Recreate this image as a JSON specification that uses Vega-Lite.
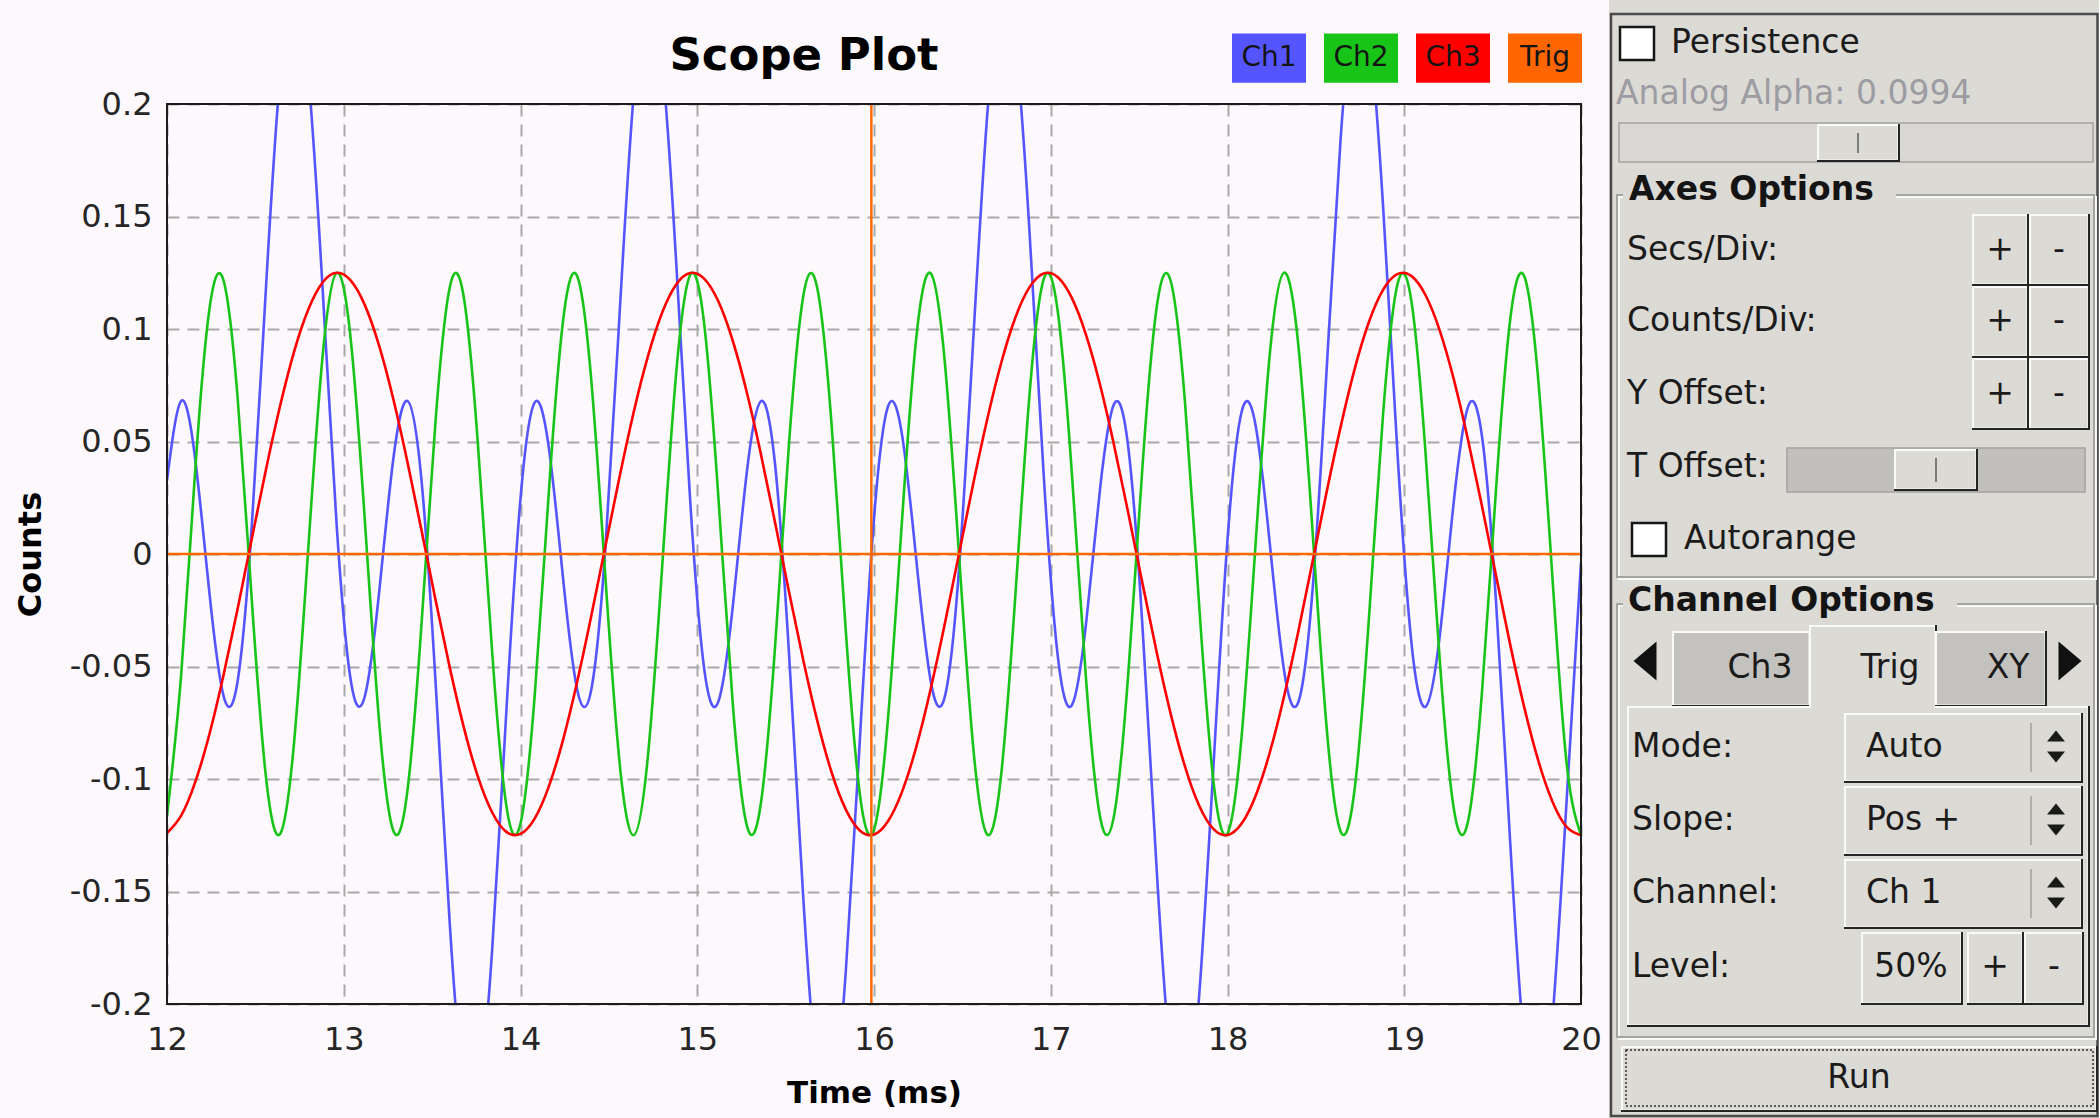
{
"$schema": "https://vega.github.io/schema/vega-lite/v6.json",
"background": "#fcf8fc",
"padding": {"left": 14, "top": 0, "right": 0, "bottom": 0},
"spacing": 7,
"config": {"font": "DejaVu Sans", "view": {"stroke": null}},
"datasets": {
"scope": [
{"t":12.00,"Ch1":0.0327,"Ch2":-0.1163,"Ch3":-0.1240},
{"t":12.08,"Ch1":0.0680,"Ch2":-0.0538,"Ch3":-0.1163},
{"t":12.16,"Ch1":0.0419,"Ch2":0.0376,"Ch3":-0.1013},
{"t":12.24,"Ch1":-0.0173,"Ch2":0.1088,"Ch3":-0.0801},
{"t":12.32,"Ch1":-0.0631,"Ch2":0.1215,"Ch3":-0.0538},
{"t":12.40,"Ch1":-0.0563,"Ch2":0.0690,"Ch3":-0.0242},
{"t":12.48,"Ch1":0.0128,"Ch2":-0.0207,"Ch3":0.0069},
{"t":12.56,"Ch1":0.1184,"Ch2":-0.0992,"Ch3":0.0376},
{"t":12.64,"Ch1":0.2126,"Ch2":-0.1244,"Ch3":0.0659},
{"t":12.72,"Ch1":0.2500,"Ch2":-0.0828,"Ch3":0.0902},
{"t":12.80,"Ch1":0.2125,"Ch2":0.0033,"Ch3":0.1088},
{"t":12.88,"Ch1":0.1184,"Ch2":0.0876,"Ch3":0.1207},
{"t":12.96,"Ch1":0.0127,"Ch2":0.1249,"Ch3":0.1250},
{"t":13.04,"Ch1":-0.0563,"Ch2":0.0950,"Ch3":0.1215},
{"t":13.12,"Ch1":-0.0630,"Ch2":0.0141,"Ch3":0.1105},
{"t":13.20,"Ch1":-0.0172,"Ch2":-0.0744,"Ch3":0.0926},
{"t":13.28,"Ch1":0.0420,"Ch2":-0.1229,"Ch3":0.0690},
{"t":13.36,"Ch1":0.0680,"Ch2":-0.1054,"Ch3":0.0410},
{"t":13.44,"Ch1":0.0327,"Ch2":-0.0312,"Ch3":0.0105},
{"t":13.52,"Ch1":-0.0576,"Ch2":0.0597,"Ch3":-0.0207},
{"t":13.60,"Ch1":-0.1646,"Ch2":0.1186,"Ch3":-0.0505},
{"t":13.68,"Ch1":-0.2380,"Ch2":0.1137,"Ch3":-0.0773},
{"t":13.76,"Ch1":-0.2424,"Ch2":0.0477,"Ch3":-0.0992},
{"t":13.84,"Ch1":-0.1755,"Ch2":-0.0439,"Ch3":-0.1149},
{"t":13.92,"Ch1":-0.0699,"Ch2":-0.1119,"Ch3":-0.1235},
{"t":14.00,"Ch1":0.0246,"Ch2":-0.1198,"Ch3":-0.1244},
{"t":14.08,"Ch1":0.0673,"Ch2":-0.0633,"Ch3":-0.1176},
{"t":14.16,"Ch1":0.0474,"Ch2":0.0272,"Ch3":-0.1034},
{"t":14.24,"Ch1":-0.0102,"Ch2":0.1031,"Ch3":-0.0828},
{"t":14.32,"Ch1":-0.0600,"Ch2":0.1236,"Ch3":-0.0570},
{"t":14.40,"Ch1":-0.0604,"Ch2":0.0777,"Ch3":-0.0277},
{"t":14.48,"Ch1":0.0023,"Ch2":-0.0099,"Ch3":0.0033},
{"t":14.56,"Ch1":0.1059,"Ch2":-0.0923,"Ch3":0.0341},
{"t":14.64,"Ch1":0.2039,"Ch2":-0.1250,"Ch3":0.0629},
{"t":14.72,"Ch1":0.2495,"Ch2":-0.0905,"Ch3":0.0876},
{"t":14.80,"Ch1":0.2203,"Ch2":-0.0075,"Ch3":0.1070},
{"t":14.88,"Ch1":0.1308,"Ch2":0.0797,"Ch3":0.1197},
{"t":14.96,"Ch1":0.0238,"Ch2":0.1240,"Ch3":0.1249},
{"t":15.04,"Ch1":-0.0514,"Ch2":0.1017,"Ch3":0.1223},
{"t":15.12,"Ch1":-0.0655,"Ch2":0.0247,"Ch3":0.1122},
{"t":15.20,"Ch1":-0.0241,"Ch2":-0.0655,"Ch3":0.0950},
{"t":15.28,"Ch1":0.0361,"Ch2":-0.1205,"Ch3":0.0720},
{"t":15.36,"Ch1":0.0679,"Ch2":-0.1108,"Ch3":0.0444},
{"t":15.44,"Ch1":0.0400,"Ch2":-0.0415,"Ch3":0.0141},
{"t":15.52,"Ch1":-0.0454,"Ch2":0.0500,"Ch3":-0.0171},
{"t":15.60,"Ch1":-0.1530,"Ch2":0.1147,"Ch3":-0.0472},
{"t":15.68,"Ch1":-0.2327,"Ch2":0.1178,"Ch3":-0.0744},
{"t":15.76,"Ch1":-0.2458,"Ch2":0.0575,"Ch3":-0.0970},
{"t":15.84,"Ch1":-0.1861,"Ch2":-0.0336,"Ch3":-0.1135},
{"t":15.92,"Ch1":-0.0825,"Ch2":-0.1067,"Ch3":-0.1229},
{"t":16.00,"Ch1":0.0158,"Ch2":-0.1224,"Ch3":-0.1247},
{"t":16.08,"Ch1":0.0657,"Ch2":-0.0724,"Ch3":-0.1187},
{"t":16.16,"Ch1":0.0523,"Ch2":0.0166,"Ch3":-0.1054},
{"t":16.24,"Ch1":-0.0031,"Ch2":0.0966,"Ch3":-0.0855},
{"t":16.32,"Ch1":-0.0561,"Ch2":0.1248,"Ch3":-0.0602},
{"t":16.40,"Ch1":-0.0636,"Ch2":0.0858,"Ch3":-0.0312},
{"t":16.48,"Ch1":-0.0078,"Ch2":0.0009,"Ch3":-0.0003},
{"t":16.56,"Ch1":0.0932,"Ch2":-0.0847,"Ch3":0.0307},
{"t":16.64,"Ch1":0.1945,"Ch2":-0.1246,"Ch3":0.0597},
{"t":16.72,"Ch1":0.2479,"Ch2":-0.0977,"Ch3":0.0850},
{"t":16.80,"Ch1":0.2274,"Ch2":-0.0182,"Ch3":0.1051},
{"t":16.88,"Ch1":0.1429,"Ch2":0.0710,"Ch3":0.1186},
{"t":16.96,"Ch1":0.0353,"Ch2":0.1221,"Ch3":0.1247},
{"t":17.04,"Ch1":-0.0455,"Ch2":0.1076,"Ch3":0.1230},
{"t":17.12,"Ch1":-0.0671,"Ch2":0.0352,"Ch3":0.1137},
{"t":17.20,"Ch1":-0.0307,"Ch2":-0.0560,"Ch3":0.0973},
{"t":17.28,"Ch1":0.0297,"Ch2":-0.1172,"Ch3":0.0749},
{"t":17.36,"Ch1":0.0669,"Ch2":-0.1154,"Ch3":0.0477},
{"t":17.44,"Ch1":0.0465,"Ch2":-0.0516,"Ch3":0.0177},
{"t":17.52,"Ch1":-0.0336,"Ch2":0.0400,"Ch3":-0.0135},
{"t":17.60,"Ch1":-0.1411,"Ch2":0.1100,"Ch3":-0.0439},
{"t":17.68,"Ch1":-0.2264,"Ch2":0.1209,"Ch3":-0.0715},
{"t":17.76,"Ch1":-0.2482,"Ch2":0.0669,"Ch3":-0.0946},
{"t":17.84,"Ch1":-0.1960,"Ch2":-0.0231,"Ch3":-0.1119},
{"t":17.92,"Ch1":-0.0951,"Ch2":-0.1007,"Ch3":-0.1222},
{"t":18.00,"Ch1":0.0064,"Ch2":-0.1242,"Ch3":-0.1249},
{"t":18.08,"Ch1":0.0632,"Ch2":-0.0809,"Ch3":-0.1198},
{"t":18.16,"Ch1":0.0567,"Ch2":0.0058,"Ch3":-0.1073},
{"t":18.24,"Ch1":0.0041,"Ch2":0.0894,"Ch3":-0.0880},
{"t":18.32,"Ch1":-0.0517,"Ch2":0.1250,"Ch3":-0.0633},
{"t":18.40,"Ch1":-0.0660,"Ch2":0.0934,"Ch3":-0.0347},
{"t":18.48,"Ch1":-0.0172,"Ch2":0.0116,"Ch3":-0.0039},
{"t":18.56,"Ch1":0.0806,"Ch2":-0.0763,"Ch3":0.0272},
{"t":18.64,"Ch1":0.1845,"Ch2":-0.1233,"Ch3":0.0565},
{"t":18.72,"Ch1":0.2454,"Ch2":-0.1040,"Ch3":0.0824},
{"t":18.80,"Ch1":0.2335,"Ch2":-0.0288,"Ch3":0.1031},
{"t":18.88,"Ch1":0.1548,"Ch2":0.0619,"Ch3":0.1174},
{"t":18.96,"Ch1":0.0472,"Ch2":0.1193,"Ch3":0.1244},
{"t":19.04,"Ch1":-0.0389,"Ch2":0.1126,"Ch3":0.1236},
{"t":19.12,"Ch1":-0.0679,"Ch2":0.0454,"Ch3":0.1151},
{"t":19.20,"Ch1":-0.0370,"Ch2":-0.0462,"Ch3":0.0995},
{"t":19.28,"Ch1":0.0231,"Ch2":-0.1130,"Ch3":0.0777},
{"t":19.36,"Ch1":0.0652,"Ch2":-0.1191,"Ch3":0.0510},
{"t":19.44,"Ch1":0.0522,"Ch2":-0.0612,"Ch3":0.0212},
{"t":19.52,"Ch1":-0.0221,"Ch2":0.0296,"Ch3":-0.0099},
{"t":19.60,"Ch1":-0.1289,"Ch2":0.1045,"Ch3":-0.0405},
{"t":19.68,"Ch1":-0.2192,"Ch2":0.1232,"Ch3":-0.0685},
{"t":19.76,"Ch1":-0.2496,"Ch2":0.0757,"Ch3":-0.0923},
{"t":19.84,"Ch1":-0.2052,"Ch2":-0.0124,"Ch3":-0.1103},
{"t":19.92,"Ch1":-0.1078,"Ch2":-0.0939,"Ch3":-0.1214},
{"t":20.00,"Ch1":-0.0038,"Ch2":-0.1249,"Ch3":-0.1250}
],
"bg": [{"x":1610,"x2":2100,"y":0,"y2":1118,"f":"n"}],
"frame": [{"x":1612,"x2":2098.5,"y":14,"y2":1116}],
"groups": [{"x":1618,"x2":2095,"y":195,"y2":577},{"x":1618,"x2":2095,"y":604,"y2":1037}],
"titlebg": [{"x":1624,"x2":1897,"y":178,"y2":212,"f":"n"},{"x":1624,"x2":1958,"y":585,"y2":620,"f":"n"}],
"tracks": [{"x":1620,"x2":2094,"y":123,"y2":162,"f":"a"},{"x":1788,"x2":2086,"y":448,"y2":492,"f":"d"}],
"checks": [{"x":1621,"x2":1655,"y":27,"y2":60,"f":"w"},{"x":1633,"x2":1667,"y":523,"y2":556,"f":"w"}],
"raised1": [
{"x":1628,"x2":2091,"y":706,"y2":1027,"f":"n"},
{"x":1673,"x2":1812,"y":631,"y2":707,"f":"t"},
{"x":1936,"x2":2048,"y":631,"y2":707,"f":"t"},
{"x":1810,"x2":1938,"y":625,"y2":711,"f":"n"}
],
"raised2": [
{"x":1818,"x2":1901,"y":124,"y2":162,"f":"n"},
{"x":1895,"x2":1979,"y":449,"y2":491,"f":"n"},
{"x":1973,"x2":2030,"y":214,"y2":286,"f":"n"},
{"x":2030,"x2":2091,"y":214,"y2":286,"f":"n"},
{"x":1973,"x2":2030,"y":286,"y2":358,"f":"n"},
{"x":2030,"x2":2091,"y":286,"y2":358,"f":"n"},
{"x":1973,"x2":2030,"y":358,"y2":430,"f":"n"},
{"x":2030,"x2":2091,"y":358,"y2":430,"f":"n"},
{"x":1845,"x2":2084,"y":713,"y2":783,"f":"n"},
{"x":1845,"x2":2084,"y":786,"y2":856,"f":"n"},
{"x":1845,"x2":2084,"y":859,"y2":929,"f":"n"},
{"x":1862,"x2":1964,"y":932,"y2":1005,"f":"n"},
{"x":1968,"x2":2025,"y":932,"y2":1005,"f":"n"},
{"x":2025,"x2":2085,"y":932,"y2":1005,"f":"n"},
{"x":1622,"x2":2099,"y":1046,"y2":1112,"f":"n"}
],
"grips": [{"x":1859,"y":133,"y2":153},{"x":1937,"y":458,"y2":482}],
"seps": [{"x":2032,"y":723,"y2":772},{"x":2032,"y":796,"y2":845},{"x":2032,"y":869,"y2":918}],
"focus": [{"x":1627,"x2":2094,"y":1050,"y2":1106}],
"larrow": [{"x":1646,"y":661}],
"rarrow": [{"x":2071,"y":661}],
"uparrow": [{"x":2057,"y":736},{"x":2057,"y":809},{"x":2057,"y":882}],
"dnarrow": [{"x":2057,"y":757},{"x":2057,"y":830},{"x":2057,"y":903}],
"labels": [
{"x":1672,"y":43,"s":"Persistence"},
{"x":1628,"y":250,"s":"Secs/Div:"},
{"x":1628,"y":321,"s":"Counts/Div:"},
{"x":1628,"y":394,"s":"Y Offset:"},
{"x":1628,"y":467,"s":"T Offset:"},
{"x":1685,"y":539,"s":"Autorange"},
{"x":1633,"y":747,"s":"Mode:"},
{"x":1633,"y":820,"s":"Slope:"},
{"x":1633,"y":893,"s":"Channel:"},
{"x":1633,"y":967,"s":"Level:"},
{"x":1867,"y":747,"s":"Auto"},
{"x":1867,"y":820,"s":"Pos +"},
{"x":1867,"y":893,"s":"Ch 1"}
],
"clabels": [
{"x":2001,"y":250,"s":"+"},{"x":2060,"y":250,"s":"-"},
{"x":2001,"y":321,"s":"+"},{"x":2060,"y":321,"s":"-"},
{"x":2001,"y":394,"s":"+"},{"x":2060,"y":394,"s":"-"},
{"x":1761,"y":668,"s":"Ch3"},{"x":1891,"y":668,"s":"Trig"},{"x":2009,"y":668,"s":"XY"},
{"x":1912,"y":967,"s":"50%"},{"x":1996,"y":967,"s":"+"},{"x":2055,"y":967,"s":"-"},
{"x":1860,"y":1078,"s":"Run"}
],
"blabels": [{"x":1630,"y":190,"s":"Axes Options"},{"x":1629,"y":601,"s":"Channel Options"}],
"dlabels": [{"x":1617,"y":94,"s":"Analog Alpha: 0.0994"}]
},
"hconcat": [
{
"width": 1414,
"height": 900,
"title": {"text": "Scope Plot", "fontSize": 45, "fontWeight": "bold", "font": "DejaVu Sans", "color": "#000000", "anchor": "middle", "dx": -70, "offset": 9},
"layer": [
{
"data": {"name": "scope"},
"transform": [{"fold": ["Ch1", "Ch2", "Ch3"], "as": ["ch", "v"]}],
"mark": {"type": "line", "interpolate": "natural", "strokeWidth": 2.6, "clip": true},
"encoding": {
"x": {"field": "t", "type": "quantitative", "scale": {"domain": [12, 20], "nice": false, "zero": false},
"axis": {"values": [12,13,14,15,16,17,18,19,20], "format": "d", "title": "Time (ms)", "grid": true, "gridColor": "#a8a8a8", "gridDash": [12, 8], "gridWidth": 2, "domain": false, "ticks": false, "labelFontSize": 32, "labelFont": "DejaVu Sans", "labelColor": "#262626", "labelPadding": 20, "labelFlush": false, "labelOverlap": false, "titleFontSize": 31, "titleFont": "DejaVu Sans", "titleFontWeight": "bold", "titleColor": "#000000", "titlePadding": 23}},
"y": {"field": "v", "type": "quantitative", "scale": {"domain": [-0.2, 0.2], "nice": false, "zero": false},
"axis": {"values": [-0.2,-0.15,-0.1,-0.05,0,0.05,0.1,0.15,0.2], "format": "~g", "labelExpr": "replace(datum.label, '\u2212', '-')", "title": "Counts", "grid": true, "gridColor": "#a8a8a8", "gridDash": [12, 8], "gridWidth": 2, "domain": false, "ticks": false, "labelFontSize": 32, "labelFont": "DejaVu Sans", "labelColor": "#262626", "labelPadding": 15, "labelFlush": false, "labelOverlap": false, "titleFontSize": 32, "titleFont": "DejaVu Sans", "titleFontWeight": "bold", "titleColor": "#000000", "titlePadding": 22}},
"color": {"field": "ch", "type": "nominal",
"scale": {"domain": ["Ch1", "Ch2", "Ch3", "Trig"], "range": ["#5555ff", "#17c417", "#ff0000", "#ff6600"]},
"legend": {"orient": "none", "legendX": 1065, "legendY": -83, "direction": "horizontal", "title": null, "symbolType": "M-1,-0.667L1,-0.667L1,0.667L-1,0.667Z", "symbolSize": 5476, "symbolStrokeWidth": 0, "symbolOpacity": 1, "labelAlign": "center", "labelOffset": -37, "labelFontSize": 28, "labelFont": "DejaVu Sans", "labelColor": "#141414", "labelLimit": 0, "columnPadding": 18, "padding": 0,
"encode": {"symbols": {"update": {"fill": {"scale": "color", "field": "value"}, "fillOpacity": {"value": 1}, "strokeWidth": {"value": 0}}}}}}
}
},
{
"data": {"values": [{"v": 0}]},
"mark": {"type": "rule", "color": "#ff6a00", "strokeWidth": 2.5},
"encoding": {"y": {"field": "v", "type": "quantitative"}}
},
{
"data": {"values": [{"t": 15.985}]},
"mark": {"type": "rule", "color": "#ff6a00", "strokeWidth": 2.5},
"encoding": {"x": {"field": "t", "type": "quantitative"}}
},
{
"data": {"values": [{"t": 12, "t2": 20, "v": -0.2, "v2": 0.2}]},
"mark": {"type": "rect", "filled": false, "color": "#1c1c1c", "strokeWidth": 2},
"encoding": {"x": {"field": "t", "type": "quantitative"}, "x2": {"field": "t2"}, "y": {"field": "v", "type": "quantitative"}, "y2": {"field": "v2"}}
}
]
},
{
"width": 490,
"height": 1014,
"encoding": {
"x": {"field": "x", "type": "quantitative", "scale": {"domain": [1610, 2100], "nice": false, "zero": false}, "axis": null},
"y": {"field": "y", "type": "quantitative", "scale": {"domain": [0, 1118], "range": [-104, 1014], "nice": false, "zero": false}, "axis": null}
},
"layer": [
{"data": {"name": "bg"}, "mark": {"type": "rect"}, "encoding": {"x2": {"field": "x2"}, "y2": {"field": "y2"}, "fill": {"field": "f", "type": "nominal", "scale": {"domain": ["n", "t", "w", "a", "d"], "range": ["#dcdad5", "#c4c2be", "#ffffff", "#d9d7d3", "#c2c0bc"]}, "legend": null}}},
{"data": {"name": "frame"}, "mark": {"type": "rect", "filled": false, "color": "#4a4a4a", "strokeWidth": 2.5}, "encoding": {"x2": {"field": "x2"}, "y2": {"field": "y2"}}},
{"data": {"name": "groups"}, "mark": {"type": "rect", "filled": false, "color": "#f7f7f5", "strokeWidth": 2, "xOffset": 2, "yOffset": 2, "x2Offset": 2, "y2Offset": 2}, "encoding": {"x2": {"field": "x2"}, "y2": {"field": "y2"}}},
{"data": {"name": "groups"}, "mark": {"type": "rect", "filled": false, "color": "#a6a4a0", "strokeWidth": 2}, "encoding": {"x2": {"field": "x2"}, "y2": {"field": "y2"}}},
{"data": {"name": "titlebg"}, "mark": {"type": "rect"}, "encoding": {"x2": {"field": "x2"}, "y2": {"field": "y2"}, "fill": {"field": "f", "type": "nominal", "legend": null}}},
{"data": {"name": "tracks"}, "mark": {"type": "rect", "stroke": "#a4a29e", "strokeWidth": 1.5}, "encoding": {"x2": {"field": "x2"}, "y2": {"field": "y2"}, "fill": {"field": "f", "type": "nominal", "legend": null}}},
{"data": {"name": "checks"}, "mark": {"type": "rect", "stroke": "#161616", "strokeWidth": 2.5}, "encoding": {"x2": {"field": "x2"}, "y2": {"field": "y2"}, "fill": {"field": "f", "type": "nominal", "legend": null}}},
{"data": {"name": "raised1"}, "mark": {"type": "rect", "color": "#242424"}, "encoding": {"x2": {"field": "x2"}, "y2": {"field": "y2"}}},
{"data": {"name": "raised1"}, "mark": {"type": "rect", "color": "#fafaf8", "x2Offset": -2, "y2Offset": -2}, "encoding": {"x2": {"field": "x2"}, "y2": {"field": "y2"}}},
{"data": {"name": "raised1"}, "mark": {"type": "rect", "xOffset": 2, "yOffset": 2, "x2Offset": -2.5, "y2Offset": -2.5}, "encoding": {"x2": {"field": "x2"}, "y2": {"field": "y2"}, "fill": {"field": "f", "type": "nominal", "legend": null}}},
{"data": {"name": "raised2"}, "mark": {"type": "rect", "color": "#242424"}, "encoding": {"x2": {"field": "x2"}, "y2": {"field": "y2"}}},
{"data": {"name": "raised2"}, "mark": {"type": "rect", "color": "#fafaf8", "x2Offset": -2, "y2Offset": -2}, "encoding": {"x2": {"field": "x2"}, "y2": {"field": "y2"}}},
{"data": {"name": "raised2"}, "mark": {"type": "rect", "xOffset": 2, "yOffset": 2, "x2Offset": -2.5, "y2Offset": -2.5}, "encoding": {"x2": {"field": "x2"}, "y2": {"field": "y2"}, "fill": {"field": "f", "type": "nominal", "legend": null}}},
{"data": {"name": "grips"}, "mark": {"type": "rule", "color": "#7c7c7c", "strokeWidth": 2}, "encoding": {"y2": {"field": "y2"}}},
{"data": {"name": "seps"}, "mark": {"type": "rule", "color": "#b0aeaa", "strokeWidth": 2}, "encoding": {"y2": {"field": "y2"}}},
{"data": {"name": "focus"}, "mark": {"type": "rect", "filled": false, "color": "#303030", "strokeWidth": 1.5, "strokeDash": [2, 2]}, "encoding": {"x2": {"field": "x2"}, "y2": {"field": "y2"}}},
{"data": {"name": "larrow"}, "mark": {"type": "point", "shape": "M1,-1.7L-1,0L1,1.7Z", "size": 529, "filled": true, "color": "#111111", "opacity": 1}},
{"data": {"name": "rarrow"}, "mark": {"type": "point", "shape": "M-1,-1.7L1,0L-1,1.7Z", "size": 529, "filled": true, "color": "#111111", "opacity": 1}},
{"data": {"name": "uparrow"}, "mark": {"type": "point", "shape": "M-1,0.6L1,0.6L0,-0.6Z", "size": 324, "filled": true, "color": "#1a1a1a", "opacity": 1}},
{"data": {"name": "dnarrow"}, "mark": {"type": "point", "shape": "M-1,-0.6L1,-0.6L0,0.6Z", "size": 324, "filled": true, "color": "#1a1a1a", "opacity": 1}},
{"data": {"name": "labels"}, "mark": {"type": "text", "align": "left", "baseline": "middle", "fontSize": 33, "font": "DejaVu Sans", "color": "#1b1b1b"}, "encoding": {"text": {"field": "s"}}},
{"data": {"name": "clabels"}, "mark": {"type": "text", "align": "center", "baseline": "middle", "fontSize": 33, "font": "DejaVu Sans", "color": "#1b1b1b"}, "encoding": {"text": {"field": "s"}}},
{"data": {"name": "blabels"}, "mark": {"type": "text", "align": "left", "baseline": "middle", "fontSize": 33, "font": "DejaVu Sans", "fontWeight": "bold", "color": "#141414"}, "encoding": {"text": {"field": "s"}}},
{"data": {"name": "dlabels"}, "mark": {"type": "text", "align": "left", "baseline": "middle", "fontSize": 33, "font": "DejaVu Sans", "color": "#9c9ca2"}, "encoding": {"text": {"field": "s"}}}
]
}
]
}
